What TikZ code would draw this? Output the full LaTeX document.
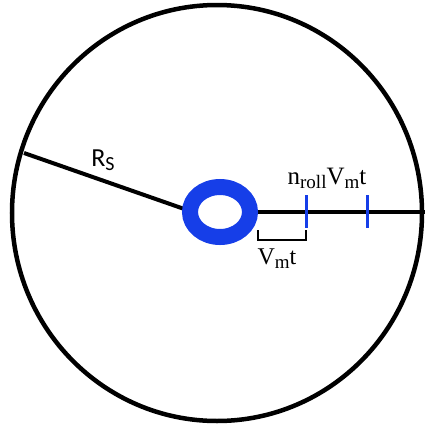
\documentclass[tikz,border=0pt]{standalone}
\usepackage{fontspec}
\setmainfont{Carlito}
\newfontfamily\serifsym{Liberation Serif}
\newcommand{\lowsub}[2]{\raisebox{-0.35ex}{\fontsize{#1}{#1}\selectfont #2}}
\definecolor{ringblue}{RGB}{22,62,232}

\begin{document}
\begin{tikzpicture}[x=1pt,y=-1pt]
\useasboundingbox (0,0) rectangle (425,429);
\draw[line width=4.5] (217,213) ellipse [x radius=205, y radius=208];
% radius line and label
\draw[line width=4] (24,153) -- (190,211);
\node (rs) at (103,160) {\fontsize{26}{26}\selectfont R\lowsub{20}{S}};
% axis to the right
\draw[line width=4.5] (256,212) -- (425,212);
\draw[ringblue,line width=16] (220,212) ellipse [x radius=30, y radius=25];
\draw[ringblue,line width=3] (306,195) -- (306,228);
\draw[ringblue,line width=3] (367,195) -- (367,228);
% bracket
\draw[line width=1.2] (258,230) -- (258,240) -- (306,240) -- (306,230);
\node (vmt) at (277,259) {\serifsym\fontsize{24}{24}\selectfont V\lowsub{19}{m}t};
\node (nroll) at (327,178) {\serifsym\fontsize{25}{25}\selectfont n\lowsub{19}{roll}V\lowsub{19}{m}t};
\end{tikzpicture}
\end{document}
